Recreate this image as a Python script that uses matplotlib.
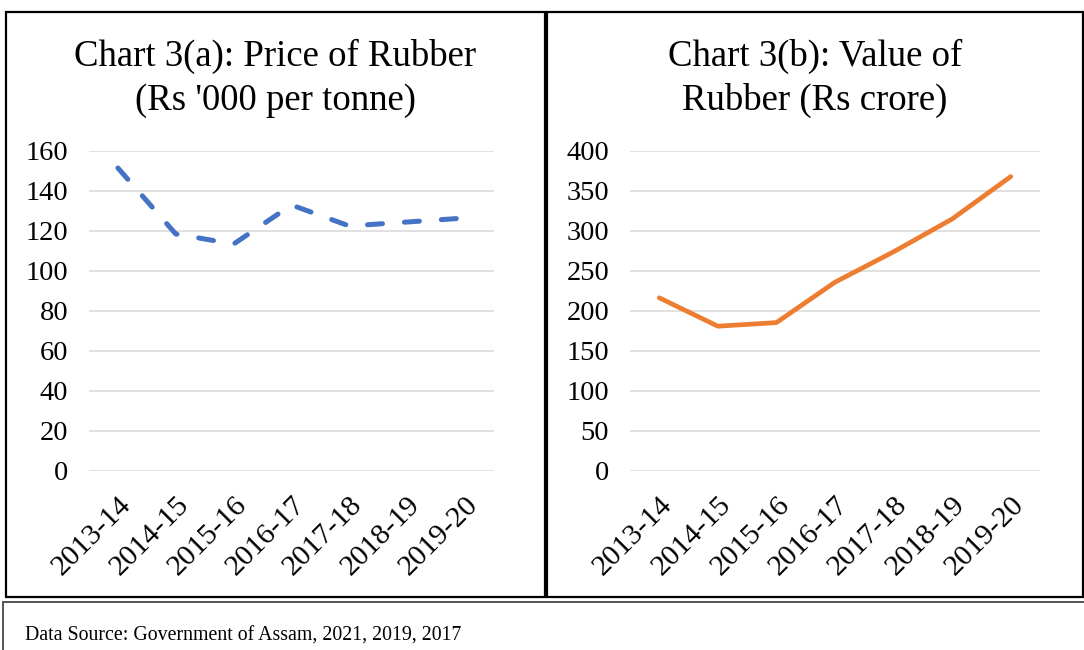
import matplotlib
matplotlib.use("Agg")
import matplotlib.pyplot as plt
from matplotlib.patches import Rectangle
from matplotlib.transforms import ScaledTranslation

plt.rcParams["font.family"] = ["Liberation Serif", "DejaVu Serif"]

# data
years = ["2013-14", "2014-15", "2015-16", "2016-17", "2017-18", "2018-19", "2019-20"]
price = [151.5, 118.5, 113.5, 133.0, 122.5, 124.5, 126.5]   # Rs '000 per tonne
value = [216.5, 181.0, 185.5, 236.0, 274.0, 315.0, 368.0]   # Rs crore
price_ticks = [0, 20, 40, 60, 80, 100, 120, 140, 160]
value_ticks = [0, 50, 100, 150, 200, 250, 300, 350, 400]

W, H = 1084, 650
fig = plt.figure(figsize=(W / 100, H / 100), dpi=100)


def box(x0, y0, x1, y1):
    """pixel box (top-left origin) -> figure fraction [l, b, w, h]"""
    return [x0 / W, 1 - y1 / H, (x1 - x0) / W, (y1 - y0) / H]


def frame(x0, y0, x1, y1, color="black", lw=1.6):
    l, b, w, h = box(x0, y0, x1, y1)
    fig.patches.append(Rectangle((l, b), w, h, transform=fig.transFigure,
                                 fill=False, ec=color, lw=lw))


def panel(rect, data, ticks, title, center_x, **line_kw):
    ax = fig.add_axes(rect)
    ax.plot(range(len(years)), data, **line_kw)
    ax.set_xlim(-0.5, len(years) - 0.5)
    ax.set_ylim(ticks[0], ticks[-1])
    ax.set_yticks(ticks)
    ax.set_xticks(range(len(years)))
    ax.set_xticklabels(years, rotation=45, ha="right", va="top",
                       rotation_mode="anchor")
    shift = ScaledTranslation(10 / 100, 0, fig.dpi_scale_trans)
    for lab in ax.get_xticklabels():
        lab.set_transform(lab.get_transform() + shift)
    ax.tick_params(axis="x", length=0, pad=15, labelsize=21.5)
    ax.tick_params(axis="y", length=0, pad=15, labelsize=20.5)
    ax.grid(axis="y", color="#D9D9D9", lw=1.1)
    ax.set_axisbelow(True)
    for s in ax.spines.values():
        s.set_visible(False)
    fig.text(center_x / W, 1 - 66 / H, title[0], ha="center", va="baseline",
             fontsize=26.5)
    fig.text(center_x / W, 1 - 110 / H, title[1], ha="center", va="baseline",
             fontsize=26.5)
    return ax


panel(box(89, 151, 494, 471), price, price_ticks,
      ["Chart 3(a): Price of Rubber", "(Rs '000 per tonne)"], 275.5,
      color="#4472C4", lw=3.6, linestyle=(0, (3, 4.4)),
      dash_capstyle="round", dash_joinstyle="round")
panel(box(630, 151, 1040, 471), value, value_ticks,
      ["Chart 3(b): Value of", "Rubber (Rs crore)"], 815,
      color="#ED7D31", lw=3.4, solid_capstyle="round",
      solid_joinstyle="round")

frame(6, 12, 545, 597)
frame(547, 12, 1083, 597)
frame(3, 602, 1090, 660, color="#555555", lw=1.4)

fig.text(25 / W, 1 - 641 / H, "Data Source: Government of Assam, 2021, 2019, 2017",
         ha="left", va="baseline", fontsize=14.3)

fig.savefig("out.png", dpi=100)
